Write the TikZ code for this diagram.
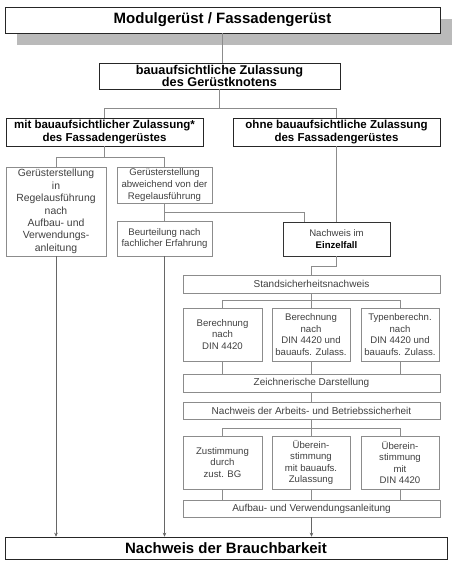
\documentclass[tikz,border=0pt]{standalone}
\usepackage{fontspec}
\setmainfont{Liberation Sans}
\usetikzlibrary{shadows,arrows.meta}

\begin{document}
\begin{tikzpicture}[x=1pt,y=-1pt]

% définition des styles
\tikzstyle{cadre}=[rectangle,draw=black!45,fill=white,thin,align=center,inner sep=0pt,text=black!75,font=\fontsize{9.6}{11.6}\selectfont]
\tikzstyle{bande}=[cadre,font=\fontsize{10}{12}\selectfont]
\tikzstyle{titre}=[rectangle,draw=black!85,fill=white,semithick,align=center,inner sep=0pt,font=\bfseries\fontsize{11.5}{12.5}\selectfont]
\tikzstyle{grand}=[titre,font=\bfseries\fontsize{15}{18}\selectfont]
\tikzstyle{liaison}=[-,draw=black!45,thin]
\tikzstyle{fleche}=[-{Stealth[length=4pt,width=3.5pt]},draw=black!60,thin]

\useasboundingbox (0,0) rectangle (453,561);

% les cadres
\node [grand,general shadow={fill=black!27,shadow xshift=12pt,shadow yshift=-12pt},minimum width=435pt,minimum height=26pt] (modul) at (222.5,20) {Modulgerüst / Fassadengerüst};
\node [titre,font=\bfseries\fontsize{12.7}{12.8}\selectfont,minimum width=241pt,minimum height=26pt] (zulass) at (219.5,76) {bauaufsichtliche Zulassung\\des Gerüstknotens};
\node [titre,minimum width=197pt,minimum height=28pt] (mit) at (104.5,132) {mit bauaufsichtlicher Zulassung*\\des Fassadengerüstes};
\node [titre,minimum width=207pt,minimum height=28pt] (ohne) at (336.5,132) {ohne bauaufsichtliche Zulassung\\des Fassadengerüstes};

\node [cadre,font=\fontsize{10.4}{12.4}\selectfont,minimum width=100pt,minimum height=89pt] (regel) at (56,211.5) {Gerüsterstellung\\in\\Regelausführung\\nach\\Aufbau- und\\Verwendungs-\\anleitung};
\node [cadre,minimum width=95pt,minimum height=36pt] (abw) at (164.5,185) {Gerüsterstellung\\abweichend von der\\Regelausführung};
\node [cadre,minimum width=95pt,minimum height=35pt] (beurt) at (164.5,238.5) {Beurteilung nach\\fachlicher Erfahrung};
\node [cadre,draw=black!80,minimum width=107pt,minimum height=34pt] (einzel) at (336.5,239) {Nachweis im\\\textcolor{black}{\textbf{Einzelfall}}};

\node [bande,minimum width=257pt,minimum height=18pt] (stand) at (311.5,284) {Standsicherheitsnachweis};
\node [cadre,minimum width=79pt,minimum height=53pt] (ber1) at (222.5,334.5) {Berechnung\\nach\\DIN 4420};
\node [cadre,minimum width=78pt,minimum height=53pt] (ber2) at (311,334.5) {Berechnung\\nach\\DIN 4420 und\\bauaufs. Zulass.};
\node [cadre,minimum width=78pt,minimum height=53pt] (ber3) at (400,334.5) {Typenberechn.\\nach\\DIN 4420 und\\bauaufs. Zulass.};
\node [bande,minimum width=257pt,minimum height=18pt] (zeich) at (311.5,383) {Zeichnerische Darstellung};
\node [bande,minimum width=257pt,minimum height=17pt] (arb) at (311.5,410.5) {Nachweis der Arbeits- und Betriebssicherheit};
\node [cadre,minimum width=79pt,minimum height=53pt] (zust) at (222.5,462.5) {Zustimmung\\durch\\zust. BG};
\node [cadre,minimum width=78pt,minimum height=53pt] (uber1) at (311,462.5) {Überein-\\stimmung\\mit bauaufs.\\Zulassung};
\node [cadre,minimum width=78pt,minimum height=53pt] (uber2) at (400,462.5) {Überein-\\stimmung\\mit\\DIN 4420};
\node [bande,minimum width=257pt,minimum height=17pt] (aufbau) at (311.5,508.5) {Aufbau- und Verwendungsanleitung};

\node [grand,minimum width=442pt,minimum height=22pt] (brauch) at (226,548) {Nachweis der Brauchbarkeit};

% les liaisons
\draw[liaison] (modul.south) -- (modul.south |- zulass.north);
\draw[liaison] (zulass.south) -- ++(0,19);
\draw[liaison] (mit.north) |- ([yshift=-19pt]zulass.south) -| (ohne.north);
\draw[liaison] (mit.south) -- ++(0,11);
\draw[liaison] (regel.north) |- ([yshift=-11pt]mit.south) -| (abw.north);
\draw[liaison] (abw.south) -- (beurt.north);
\draw[liaison] (abw.south) ++(0,9) -| ([xshift=-32pt]einzel.north);
\draw[liaison] (ohne.south) -- (einzel.north);
\draw[liaison] (einzel.south) -- ++(0,10) -| (stand.north);

\draw[liaison] (stand.south) -- (stand.south |- ber2.north);
\draw[liaison] (ber1.north) |- ([yshift=-7pt]stand.south) -| (ber3.north);
\draw[liaison] (ber1.south) -- (ber1.south |- zeich.north);
\draw[liaison] (ber2.south) -- (ber2.south |- zeich.north);
\draw[liaison] (ber3.south) -- (ber3.south |- zeich.north);
\draw[liaison] (zeich.south) -- (arb.north);

\draw[liaison] (arb.south) -- (arb.south |- uber1.north);
\draw[liaison] (zust.north) |- ([yshift=-9pt]arb.south) -| (uber2.north);
\draw[liaison] (zust.south) -- (zust.south |- aufbau.north);
\draw[liaison] (uber1.south) -- (uber1.south |- aufbau.north);
\draw[liaison] (uber2.south) -- (uber2.south |- aufbau.north);

% les flèches
\draw[fleche] (regel.south) -- (regel.south |- brauch.north);
\draw[fleche] (beurt.south) -- (beurt.south |- brauch.north);
\draw[fleche] (aufbau.south) -- (aufbau.south |- brauch.north);

\end{tikzpicture}
\end{document}
